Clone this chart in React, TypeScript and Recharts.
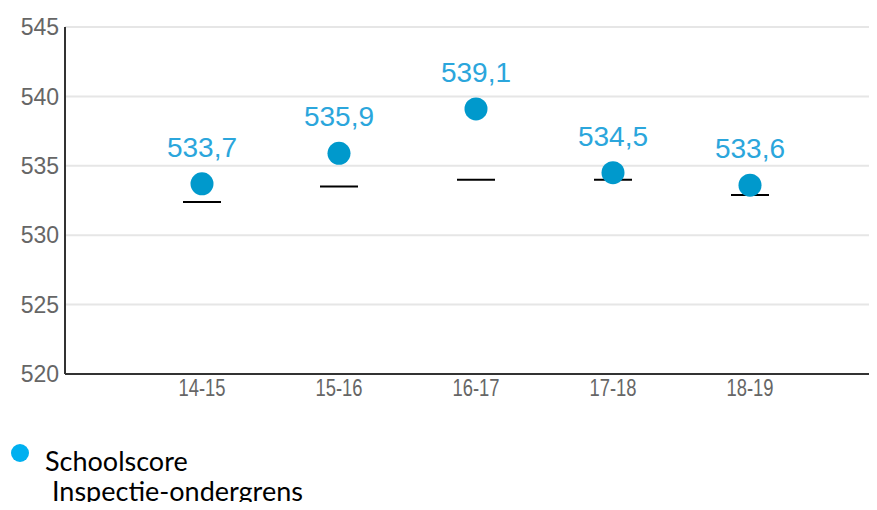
import React from 'react';
import { ComposedChart, Line, XAxis, YAxis, CartesianGrid, LabelList } from 'recharts';

const seasons = ['14-15', '15-16', '16-17', '17-18', '18-19'];
const schoolscore = [533.7, 535.9, 539.1, 534.5, 533.6];
const ondergrens = [532.4, 533.5, 534.0, 534.0, 532.9];
const yTicks = [520, 525, 530, 535, 540, 545];

const data = seasons.map((s, i) => ({ season: s, score: schoolscore[i], grens: ondergrens[i] }));

const fmt = (v: number) => v.toFixed(1).replace('.', ',');

const GrensDot = (props: any) => {
  const { cx, cy, index } = props;
  if (cx == null || cy == null) return null;
  return <line key={`g${index}`} x1={cx - 19} x2={cx + 19} y1={cy} y2={cy} stroke="#000" strokeWidth={2} />;
};

const ScoreDot = (props: any) => {
  const { cx, cy, index } = props;
  if (cx == null || cy == null) return null;
  return <circle key={`s${index}`} cx={cx} cy={cy} r={11.5} fill="#0099cc" />;
};

const ScoreLabel = (props: any) => {
  const { x, y, value } = props;
  return (
    <text x={x} y={y - 27} textAnchor="middle" fill="#2ba6dc" fontSize={28} fontFamily="Liberation Sans, Arial, sans-serif">
      {fmt(value)}
    </text>
  );
};

const XTick = (props: any) => {
  const { x, y, payload } = props;
  return (
    <g transform={`translate(${x},${y})`}>
      <text transform="scale(0.8,1)" textAnchor="middle" dy="0.71em" fill="#666" fontSize={23} fontFamily="Liberation Sans, Arial, sans-serif">
        {payload.value}
      </text>
    </g>
  );
};

export default function App() {
  return (
    <div style={{ position: 'relative', width: 877, height: 510, margin: -8 }}>
      <ComposedChart width={877} height={510} data={data} margin={{ top: 27, right: 0, bottom: 96, left: 0 }}>
        <CartesianGrid vertical={false} stroke="#e6e6e6" strokeWidth={2} />
        <XAxis
          dataKey="season"
          scale="point"
          padding={{ left: 137, right: 127 }}
          height={40}
          tickLine={false}
          tickSize={0}
          tickMargin={6}
          axisLine={{ stroke: '#333', strokeWidth: 2 }}
          tick={XTick}
        />
        <YAxis
          domain={[520, 545]}
          ticks={yTicks}
          width={65}
          tickLine={false}
          tickSize={0}
          tickMargin={6}
          axisLine={{ stroke: '#333', strokeWidth: 2 }}
          tick={{ fill: '#666', fontSize: 23, fontFamily: 'Liberation Sans, Arial, sans-serif' }}
          allowDataOverflow
        />
        <Line dataKey="grens" stroke="none" dot={GrensDot} activeDot={false} isAnimationActive={false} />
        <Line dataKey="score" stroke="none" dot={ScoreDot} activeDot={false} isAnimationActive={false}>
          <LabelList dataKey="score" content={ScoreLabel} />
        </Line>
      </ComposedChart>
      <svg width={877} height={80} style={{ position: 'absolute', left: 0, top: 430 }}>
        <circle cx={20} cy={23} r={9} fill="#00b0f0" />
        <text x={45} y={41} fontSize={27} fill="#000" fontFamily="Lato, Carlito, sans-serif">Schoolscore</text>
        <text x={52} y={71} fontSize={27} fill="#000" fontFamily="Lato, Carlito, sans-serif">Inspectie-ondergrens</text>
      </svg>
    </div>
  );
}
